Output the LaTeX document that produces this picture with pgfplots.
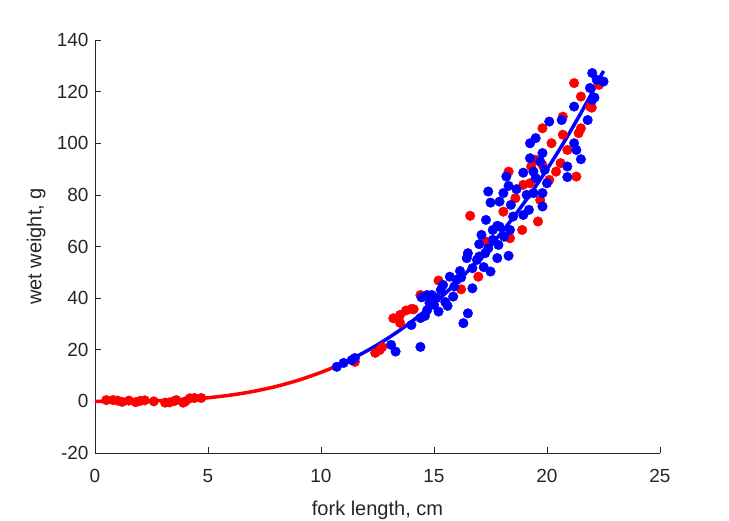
\documentclass[border=0pt]{standalone}
\usepackage{fontspec}
\setmainfont{Liberation Sans}
\usepackage{pgfplots}
\pgfplotsset{compat=1.18}
\definecolor{axgray}{RGB}{38,38,38}
\begin{document}
\begin{tikzpicture}
\path[use as bounding box] (-95bp,-68bp) rectangle (634bp,453bp);
\begin{axis}[
  at={(0,0)}, anchor=south west,
  scale only axis, width=565bp, height=413bp,
  xmin=0, xmax=25, ymin=-20, ymax=140,
  xtick={0,5,...,25}, ytick={-20,0,...,140},
  axis x line*=bottom, axis y line*=left,
  axis line style={axgray, line width=0.6bp, -},
  tick style={axgray, line width=0.6bp},
  tick align=inside, major tick length=6bp,
  /pgf/number format/assume math mode=true,
  ticklabel style={font=\fontsize{19bp}{22bp}\selectfont, text=axgray},
  xticklabel style={yshift=-13bp},
  yticklabel style={xshift=-3bp},
  label style={font=\fontsize{20bp}{24bp}\selectfont, text=axgray},
  xlabel={fork length, cm}, ylabel={wet weight, g},
  xlabel style={at={(axis description cs:0.5,0)}, anchor=north, yshift=-44bp},
  ylabel style={at={(axis description cs:0,0.5)}, anchor=south, xshift=0bp, yshift=46bp},
  clip=false,
]
% red observations
\addplot[only marks, mark=*, mark size=4.8bp, red, mark options={draw=red, fill=red}] coordinates {
(0.5,0.5) (0.8,0.5) (1.0,0.3) (1.2,-0.2) (1.5,0.3) (1.8,-0.3) (2.0,0.2) (2.2,0.4)
(2.6,0.0) (3.1,-0.5) (3.3,-0.4) (3.5,0.1) (3.6,0.5) (3.9,-0.5) (4.0,0.0) (4.2,1.2)
(4.4,1.3) (4.7,1.3)
(11.5,15.3) (12.4,18.8) (12.6,19.9) (12.7,21) (13.2,32.2) (13.5,33.5) (13.76,35.2)
(14.0,35.8) (13.5,30.4) (14.4,41.2) (14.1,35.7) (15.2,46.8) (16.2,43.4) (16.96,48.3)
(16.6,71.9) (17.3,61.9) (18.3,89) (19.3,91) (19.8,91.6) (18.95,83.9) (19.25,84.5)
(18.07,73.5) (18.6,78.7) (19.6,69.7) (18.9,66.4) (18.36,63.2) (19.7,78) (19.8,105.8)
(20.2,100) (20.7,103.3) (20.7,110.3) (21.5,105.8) (21.4,103.9) (21.9,114.2) (20.9,97.4)
(20.6,92.3) (20.4,89) (21.3,87.1) (20.1,85.8) (19.5,93.6) (21.2,123.3) (22.3,122.6)
(21.5,118.1) (21.98,113.8)
};
% blue observations
\addplot[only marks, mark=*, mark size=4.8bp, blue, mark options={draw=blue, fill=blue}] coordinates {
(10.7,13.4) (11.0,14.9) (11.36,16.0) (11.5,16.8) (13.1,21.9) (13.3,19.3) (14.4,21.1)
(14.0,29.6) (14.4,32.3) (14.7,35.4) (14.7,41.2) (14.8,38.1) (17.3,70.3) (17.8,68)
(17.1,64.5) (17.0,60.9) (17.6,62.6) (17.8,55.5) (16.5,57.4) (16.45,55.5) (16.9,54.8)
(17.26,57.4) (17.5,50.3) (16.15,50.5) (15.7,48.3) (16.7,51.6) (15.4,45.1) (16.0,47.1)
(16.7,43.8) (15.85,40.6) (15.6,37) (15.1,40) (14.9,41.2) (14.45,40.3) (15.0,37.4)
(15.2,34.8) (14.6,33.1) (16.5,34.1) (16.3,30.3) (15.3,43.2) (17.4,81.3) (17.5,77)
(18.2,87.1) (18.3,83.5) (18.07,80.7) (17.9,77.4) (18.65,82.2) (18.95,88.6) (19.4,89)
(19.5,86.5) (20.0,84.5) (19.1,80) (18.4,76.1) (19.2,74.2) (18.95,72.2) (19.8,75.5)
(18.5,71.6) (17.9,67.7) (18.36,66.4) (18.1,63.8) (17.6,66.4) (17.85,60.6) (17.4,59.3)
(17.0,56.1) (18.3,56.4) (19.25,94.2) (21.2,114.2) (22.0,116.8) (20.1,108.4) (20.65,109)
(21.8,109) (19.5,102) (19.25,100) (21.2,100) (21.3,97.4) (21.5,93.8) (19.8,96.2)
(19.7,92.9) (19.9,89.7) (20.9,91) (20.9,86.9) (19.8,80.7) (19.4,80.7) (22.0,127.2)
(22.5,123.9) (22.2,124.6) (21.9,121.4) (22.1,117.7) (15.5,38.5) (15.9,44.5) (16.2,48)
(17.2,52)
};
% red fitted curve
\addplot[red, line width=3.5bp, smooth] coordinates {
(0,0) (1,0.011) (2,0.090) (3,0.303) (4,0.719) (5,1.405) (6,2.428) (7,3.855)
(8,5.755) (9,8.194) (10,11.24) (10.5,13.01) (11,14.96)
};
% blue fitted curve
\addplot[blue, line width=3.5bp, smooth] coordinates {
(10.7,13.77) (11,14.96) (11.5,17.09) (12,19.42) (12.5,21.95) (13,24.69) (13.5,27.65)
(14,30.84) (14.5,34.27) (15,37.94) (15.5,41.86) (16,46.04) (16.5,50.49) (17,55.22)
(17.5,60.24) (18,65.55) (18.5,71.17) (19,77.09) (19.5,83.34) (20,89.92) (20.5,96.83)
(21,104.09) (21.5,111.71) (22,119.68) (22.5,128.0)
};
\end{axis}
\end{tikzpicture}
\end{document}
